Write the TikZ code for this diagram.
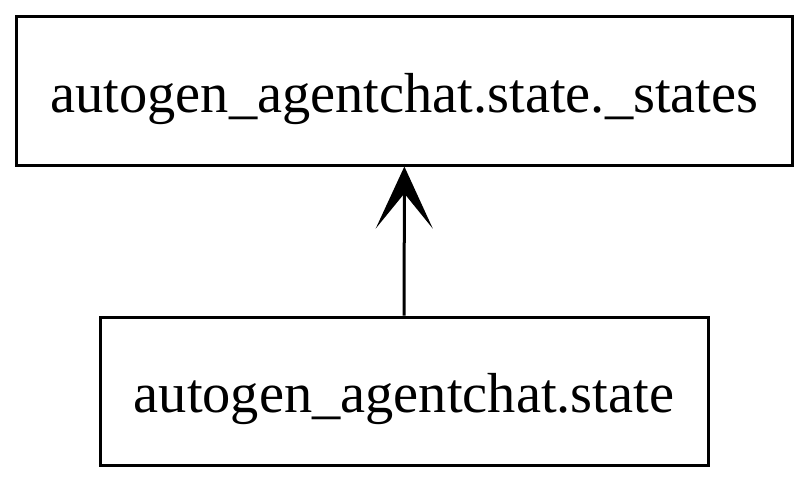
\documentclass[tikz,border=0pt]{standalone}
\usepackage{fontspec}
\setmainfont{Liberation Serif}
\usetikzlibrary{arrows.meta}

\begin{document}
\begin{tikzpicture}[x=0.5pt, y=-0.5pt,
  modbox/.style={draw, line width=1.5pt, inner sep=0pt, text height=21.5pt, text depth=0pt,
    font=\fontsize{28.2}{34}\selectfont},
  dep/.style={line width=1.5pt, -{Stealth[length=31pt, width=28.5pt, inset=17.5pt]}}]
\useasboundingbox (0,0) rectangle (809,483);

\node[modbox, minimum width=388.25pt, minimum height=74.5pt] (states) at (404.5,90.5) {autogen\_agentchat.state.\_states};
\node[modbox, minimum width=304pt, minimum height=74pt] (state) at (404,391) {autogen\_agentchat.state};

\draw[dep] (state) -- (states);

\end{tikzpicture}
\end{document}
